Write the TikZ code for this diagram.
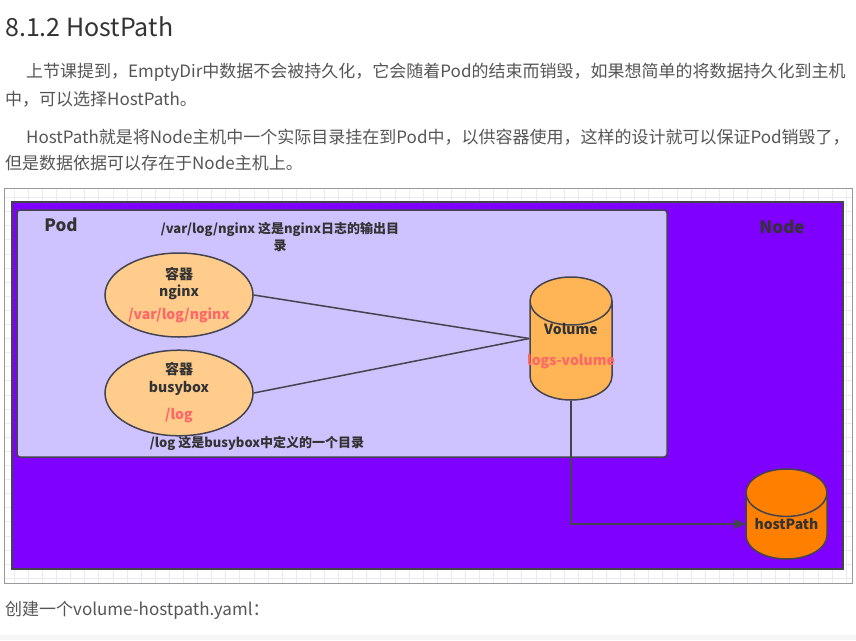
\documentclass[tikz,border=0pt]{standalone}
\usepackage{fontspec}
\setmainfont{Noto Sans CJK SC}
\usetikzlibrary{shapes.geometric, arrows.meta}

\definecolor{bodygray}{RGB}{85,85,85}
\definecolor{titlegray}{RGB}{51,51,51}
\definecolor{textdark}{RGB}{51,51,51}
\definecolor{edgegray}{RGB}{68,68,78}
\definecolor{nodepurple}{RGB}{127,0,255}
\definecolor{podfill}{RGB}{207,195,255}
\definecolor{ctrfill}{RGB}{255,204,140}
\definecolor{volfill}{RGB}{255,181,85}
\definecolor{hostfill}{RGB}{255,128,0}
\definecolor{pathred}{RGB}{255,102,102}
\definecolor{gridgray}{RGB}{232,235,243}

\tikzset{
    bodytext/.style={anchor=west, inner sep=0pt, text=bodygray, font=\fontsize{17}{20}\selectfont},
    box/.style={draw=edgegray, line width=1.5pt},
    note/.style={inner sep=0pt, align=center, text=textdark, font=\bfseries\fontsize{13}{17}\selectfont},
    ctr/.style={ellipse, box, fill=ctrfill, minimum width=148pt, minimum height=84pt, inner sep=0pt,
        align=center, text=textdark, font=\bfseries\fontsize{14}{17}\selectfont},
    store/.style={cylinder, shape border rotate=90, box, aspect=0.6, inner sep=0pt, anchor=shape center},
    storetext/.style={inner sep=0pt, text=textdark, font=\bfseries\fontsize{14}{17}\selectfont},
    link/.style={draw=edgegray, line width=1.5pt},
}

\begin{document}
\begin{tikzpicture}[x=1pt, y=-1pt]

    \useasboundingbox (0,0) rectangle (856,640);
    \fill[white] (0,0) rectangle (856,640);

    \node[anchor=west, inner sep=0pt, text=titlegray, font=\fontsize{25}{28}\selectfont] (title) at (5,27) {8.1.2 HostPath};
    \node[bodytext] (p1a) at (26,72) {上节课提到，EmptyDir中数据不会被持久化，它会随着Pod的结束而销毁，如果想简单的将数据持久化到主机};
    \node[bodytext] (p1b) at (5,99) {中，可以选择HostPath。};
    \node[bodytext] (p2a) at (26,137) {HostPath就是将Node主机中一个实际目录挂在到Pod中，以供容器使用，这样的设计就可以保证Pod销毁了，};
    \node[bodytext] (p2b) at (5,163) {但是数据依据可以存在于Node主机上。};

    \draw[gridgray, line width=0.5pt, step=14.1pt] (5,189) grid (852,583);
    \draw[gray!80, line width=1pt] (4.5,188.5) rectangle (852,583.5);

    \draw[box, fill=nodepurple] (12,202) rectangle (843,569);
    \node[anchor=center, text=textdark, font=\bfseries\fontsize{17}{20}\selectfont] (nodelbl) at (782,227) {Node};

    \draw[box, fill=podfill, rounded corners=3pt] (17,210) rectangle (667,457);
    \node[anchor=center, text=textdark, font=\bfseries\fontsize{17}{20}\selectfont] (podlbl) at (61,225) {Pod};

    \node[note] (nginxnote) at (280,237) {/var/log/nginx 这是nginx日志的输出目\\录};
    \node[note] (busynote) at (257,443) {/log 这是busybox中定义的一个目录};

    \node[ctr] (nginx) at (179,295) {容器\\nginx\\[6pt]{\color{pathred}/var/log/nginx}};
    \node[ctr] (busybox) at (179,393) {容器\\[1pt]busybox\\[10pt]{\color{pathred}/log}};

    \node[store, fill=volfill, minimum width=82pt, minimum height=123pt] (vol) at (571,338.5) {\hspace*{80pt}};
    \node[storetext] (vollbl) at ([yshift=9.5pt]vol.shape center) {Volume};
    \node[storetext, text=pathred] (volname) at ([yshift=-23.5pt]vol.shape center) {logs-volume};

    \node[store, fill=hostfill, minimum width=81pt, minimum height=90pt] (hp) at (786.5,514) {\hspace*{79pt}};
    \node[storetext] (hplbl) at ([yshift=-10pt]hp.shape center) {hostPath};

    \draw[link] (nginx.east) -- (vol.west |- vol.shape center);
    \draw[link] (busybox.east) -- (vol.west |- vol.shape center);
    \draw[link, -{Triangle[length=11pt, width=10pt]}] (vol.south) |- (hp.west |- hplbl.center);

    \fill[gray!8] (0,635) rectangle (856,640);
    \node[bodytext] (yaml) at (5,610) {创建一个volume-hostpath.yaml：};

\end{tikzpicture}
\end{document}
